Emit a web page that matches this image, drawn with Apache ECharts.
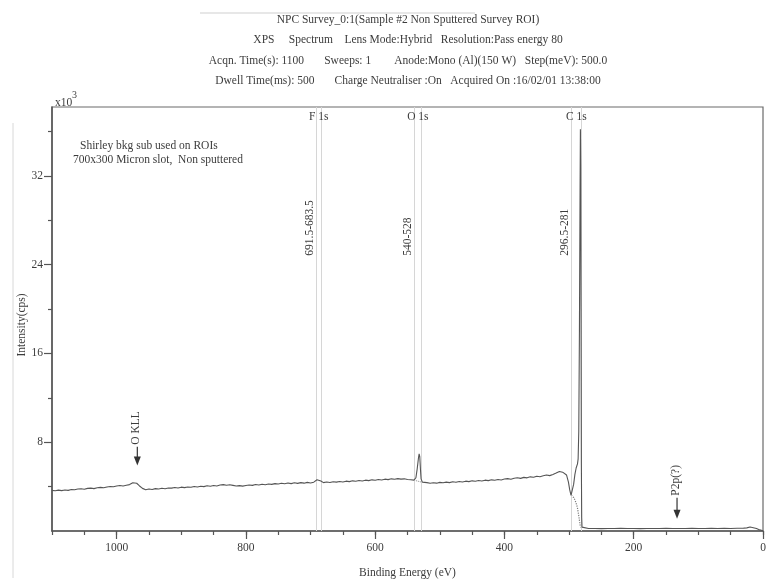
<!DOCTYPE html>
<html>
<head>
<meta charset="utf-8">
<script src="https://cdn.jsdelivr.net/npm/echarts@6/dist/echarts.min.js"></script>
<style>
  html, body { margin: 0; padding: 0; background: #ffffff; }
  #chart { width: 767px; height: 579px; }
</style>
</head>
<body>
<div id="chart"></div>
<script>
// XPS survey spectrum, NPC sample #2 (non sputtered). Intensity in units of 10^3 cps.
const bindingEnergy = [
  1100, 1095, 1090, 1085, 1080, 1075, 1070, 1065, 1060, 1055, 1050, 1045, 1040, 1035, 1030, 1025, 1020, 1015, 1010, 1005,
  1000, 995, 990, 985, 980, 975, 972, 969, 965, 960, 955, 950, 945, 940, 935, 930, 925, 920, 915, 910,
  905, 900, 895, 890, 885, 880, 875, 870, 865, 860, 855, 850, 845, 840, 835, 830, 825, 820, 815, 810,
  805, 800, 795, 790, 785, 780, 775, 770, 765, 760, 755, 750, 745, 740, 735, 730, 725, 720, 715, 710,
  705, 700, 695, 690, 687, 684, 680, 675, 670, 665, 660, 655, 650, 645, 640, 635, 630, 625, 620, 615,
  610, 605, 600, 595, 590, 585, 580, 575, 570, 565, 560, 555, 550, 545, 540, 537, 535, 533, 532, 531,
  530, 529, 527, 524, 520, 515, 510, 505, 500, 495, 490, 485, 480, 475, 470, 465, 460, 455, 450, 445,
  440, 435, 430, 425, 420, 415, 410, 405, 400, 395, 390, 385, 380, 375, 370, 365, 360, 355, 350, 345,
  340, 335, 330, 325, 320, 315, 310, 307, 304, 301, 299, 297, 295, 293, 291, 289, 287, 286, 285, 284,
  283, 282.5, 282, 281.5, 281, 280.5, 280, 278, 270, 260, 250, 240, 230, 220, 210, 200, 190, 180, 170, 160,
  150, 140, 130, 120, 110, 100, 90, 80, 70, 60, 50, 40, 30, 25, 20, 15, 10, 5, 0
];
const intensity = [
  3.66, 3.62, 3.68, 3.64, 3.70, 3.66, 3.74, 3.71, 3.78, 3.80, 3.76, 3.84, 3.86, 3.82, 3.90, 3.93, 3.89, 3.97, 4.01, 3.98,
  4.06, 4.10, 4.05, 4.12, 4.18, 4.34, 4.40, 4.30, 4.08, 3.84, 3.72, 3.78, 3.74, 3.82, 3.79, 3.85, 3.81, 3.88, 3.86, 3.92,
  3.87, 3.95, 3.91, 3.97, 3.94, 4.01, 3.96, 4.03, 4.00, 4.07, 4.03, 4.10, 4.06, 4.14, 4.18, 4.12, 4.16, 4.11, 4.06, 4.09,
  4.04, 4.10, 4.15, 4.11, 4.19, 4.14, 4.21, 4.17, 4.24, 4.20, 4.27, 4.23, 4.30, 4.25, 4.32, 4.27, 4.34, 4.29, 4.36, 4.31,
  4.38, 4.33, 4.40, 4.62, 4.72, 4.50, 4.36, 4.41, 4.37, 4.44, 4.40, 4.46, 4.42, 4.49, 4.45, 4.52, 4.48, 4.55, 4.51, 4.58,
  4.54, 4.61, 4.57, 4.64, 4.60, 4.67, 4.63, 4.70, 4.66, 4.72, 4.67, 4.70, 4.64, 4.62, 4.58, 4.80, 5.60, 6.60, 6.95, 6.70,
  5.60, 4.70, 4.40, 4.32, 4.36, 4.30, 4.35, 4.31, 4.38, 4.34, 4.40, 4.36, 4.43, 4.39, 4.46, 4.42, 4.49, 4.45, 4.52, 4.48,
  4.55, 4.51, 4.58, 4.54, 4.61, 4.57, 4.64, 4.60, 4.68, 4.72, 4.66, 4.75, 4.80, 4.74, 4.83, 4.79, 4.88, 4.84, 4.93, 4.89,
  4.98, 5.04, 4.99, 5.10, 5.22, 5.36, 5.30, 5.32, 5.05, 4.40, 3.70, 3.22, 3.35, 4.20, 5.10, 5.70, 6.05, 6.50, 9.00, 18.0,
  31.0, 36.2, 33.0, 20.0, 6.00, 1.20, 0.35, 0.24, 0.22, 0.23, 0.21, 0.23, 0.22, 0.24, 0.22, 0.23, 0.21, 0.22, 0.23, 0.22,
  0.24, 0.22, 0.23, 0.22, 0.24, 0.23, 0.22, 0.24, 0.23, 0.24, 0.23, 0.25, 0.26, 0.28, 0.36, 0.30, 0.22, 0.10, 0.02
];

// Shirley backgrounds subtracted under the ROIs (dotted)
const bgO1sEnergy = [540, 528];
const bgO1sIntensity = [4.58, 4.40];
const bgC1sEnergy = [296.5, 295, 293, 291, 289, 288, 287, 285, 284, 283, 282, 281];
const bgC1sIntensity = [3.24, 3.18, 3.02, 2.80, 2.48, 2.28, 2.05, 1.35, 0.95, 0.55, 0.38, 0.30];

// Regions of interest
const roiNames = ['F 1s', 'O 1s', 'C 1s'];
const roiStart = [691.5, 540, 296.5];
const roiEnd = [683.5, 528, 281];
const roiLabels = ['691.5-683.5', '540-528', '296.5-281'];

// Arrow annotations
const arrowLabels = ['O KLL', 'P2p(?)'];
const arrowEnergy = [968, 133];
const arrowTop = [7.6, 3.0];
const arrowTip = [5.9, 1.1];

// Axis ticks
const xMajorTicks = [0, 200, 400, 600, 800, 1000];
const xMinorTicks = [0, 50, 100, 150, 200, 250, 300, 350, 400, 450, 500, 550, 600, 650, 700, 750, 800, 850, 900, 950, 1000, 1050, 1100];
const yMajorTicks = [8, 16, 24, 32];
const yMinorTicks = [4, 12, 20, 28, 36];

const headerLines = [
  'NPC Survey_0:1(Sample #2 Non Sputtered Survey ROI)',
  'XPS     Spectrum    Lens Mode:Hybrid   Resolution:Pass energy 80',
  'Acqn. Time(s): 1100       Sweeps: 1        Anode:Mono (Al)(150 W)   Step(meV): 500.0',
  'Dwell Time(ms): 500       Charge Neutraliser :On   Acquired On :16/02/01 13:38:00'
];
const noteLines = ['Shirley bkg sub used on ROIs', '700x300 Micron slot,  Non sputtered'];

const FONT = '"Liberation Serif", "DejaVu Serif", serif';
const FS = 11.5;
const TXT = '#3c3c3c';

const pairs = (xs, ys) => xs.map((x, i) => [x, ys[i]]);

const chart = echarts.init(document.getElementById('chart'), null, { renderer: 'canvas' });

const xBase = { type: 'value', min: 0, max: 1100, inverse: true, position: 'bottom', gridIndex: 0, splitLine: { show: false } };
const yBase = { type: 'value', min: 0, max: 38.2, position: 'left', offset: 0, gridIndex: 0, splitLine: { show: false } };

chart.setOption({
  backgroundColor: '#ffffff',
  animation: false,
  grid: { left: 52, right: 4, top: 107, bottom: 48, outerBoundsMode: 'none', containLabel: false, show: true, borderColor: '#6a6a6a', borderWidth: 1.2, backgroundColor: 'transparent' },
  xAxis: [
    Object.assign({}, xBase, {
      name: 'Binding Energy (eV)', nameLocation: 'middle', nameGap: 36,
      nameTextStyle: { fontFamily: FONT, fontSize: FS, color: TXT },
      axisLine: { show: true, onZero: false, lineStyle: { color: '#555', width: 1.5 } },
      axisTick: { show: true, length: 8, customValues: xMajorTicks, lineStyle: { color: '#555', width: 1.2 } },
      axisLabel: { show: true, customValues: xMajorTicks, margin: 11, fontFamily: FONT, fontSize: FS, color: TXT, formatter: v => String(v) }
    }),
    Object.assign({}, xBase, {
      axisLine: { show: false, onZero: false },
      axisTick: { show: true, length: 4, customValues: xMinorTicks, lineStyle: { color: '#555', width: 1.2 } },
      axisLabel: { show: false }
    })
  ],
  yAxis: [
    Object.assign({}, yBase, {
      axisLine: { show: true, onZero: false, lineStyle: { color: '#555', width: 1.5 } },
      axisTick: { show: true, length: 8, customValues: yMajorTicks, lineStyle: { color: '#555', width: 1.2 } },
      axisLabel: { show: true, customValues: yMajorTicks, margin: 9, fontFamily: FONT, fontSize: FS, color: TXT, padding: [0, 0, 6, 0] }
    }),
    Object.assign({}, yBase, {
      axisLine: { show: false, onZero: false },
      axisTick: { show: true, length: 4, customValues: yMinorTicks, lineStyle: { color: '#555', width: 1.2 } },
      axisLabel: { show: false }
    })
  ],
  series: [
    {
      name: 'Survey', type: 'line', xAxisIndex: 0, yAxisIndex: 0,
      data: pairs(bindingEnergy, intensity), showSymbol: false, symbol: 'none',
      lineStyle: { color: '#555555', width: 1.1 }, z: 5,
      markLine: {
        silent: true, symbol: 'none', animation: false,
        label: { show: false },
        lineStyle: { color: '#d6d6d6', type: 'solid', width: 1 },
        data: roiStart.concat(roiEnd).map(v => ({ xAxis: v }))
      }
    },
    {
      name: 'O 1s background', type: 'line', xAxisIndex: 0, yAxisIndex: 0,
      data: pairs(bgO1sEnergy, bgO1sIntensity), showSymbol: false, symbol: 'none',
      lineStyle: { color: '#8a8a8a', width: 1, type: 'dotted' }, z: 4
    },
    {
      name: 'C 1s background', type: 'line', xAxisIndex: 0, yAxisIndex: 0,
      data: pairs(bgC1sEnergy, bgC1sIntensity), showSymbol: false, symbol: 'none',
      lineStyle: { color: '#7a7a7a', width: 1.2, type: 'dotted' }, z: 4
    }
  ]
});

// Text, ROI captions and arrows placed through the axis scales
const px = (x, y) => chart.convertToPixel({ xAxisIndex: 0, yAxisIndex: 0 }, [x, y]);
const font = FS + 'px ' + FONT;
const graphics = [];

headerLines.forEach((t, i) => {
  graphics.push({ type: 'text', x: 408, y: 20 + i * 20.3, style: { text: t, font: font, fill: TXT, align: 'center', verticalAlign: 'middle' } });
});
noteLines.forEach((t, i) => {
  graphics.push({ type: 'text', x: i === 0 ? 80 : 73, y: 146 + i * 13.5, style: { text: t, font: font, fill: TXT, align: 'left', verticalAlign: 'middle' } });
});
graphics.push({ type: 'text', x: 55, y: 103, style: { text: 'x10', font: font, fill: TXT, align: 'left', verticalAlign: 'middle' } });
graphics.push({ type: 'text', x: 72, y: 95, style: { text: '3', font: '10px ' + FONT, fill: TXT, align: 'left', verticalAlign: 'middle' } });
// y-axis title
graphics.push({ type: 'text', x: 22, y: 325, rotation: Math.PI / 2, style: { text: 'Intensity(cps)', font: font, fill: TXT, align: 'center', verticalAlign: 'middle' } });

roiNames.forEach((name, i) => {
  const a = px(roiStart[i], 0), b = px(roiEnd[i], 0);
  graphics.push({ type: 'text', x: (a[0] + b[0]) / 2, y: 117, z: 10, style: { text: name, font: font, fill: TXT, align: 'center', verticalAlign: 'middle' } });
  const p = px(roiStart[i], 24.8);
  graphics.push({ type: 'text', x: p[0] - 6, y: p[1], rotation: Math.PI / 2, z: 10, style: { text: roiLabels[i], font: font, fill: TXT, align: 'left', verticalAlign: 'middle' } });
});

arrowLabels.forEach((name, i) => {
  const top = px(arrowEnergy[i], arrowTop[i]);
  const tip = px(arrowEnergy[i], arrowTip[i]);
  const headH = 9, headW = 3.5;
  graphics.push({ type: 'line', z: 10, shape: { x1: top[0], y1: top[1], x2: tip[0], y2: tip[1] - headH + 1 }, style: { stroke: '#333', lineWidth: 1.2 } });
  graphics.push({ type: 'polygon', z: 10, shape: { points: [[tip[0] - headW, tip[1] - headH], [tip[0] + headW, tip[1] - headH], [tip[0], tip[1]]] }, style: { fill: '#333' } });
  graphics.push({ type: 'text', x: top[0] - 1, y: top[1] - 2, rotation: Math.PI / 2, z: 10, style: { text: name, font: font, fill: TXT, align: 'left', verticalAlign: 'middle' } });
});

// faint scanner marks around the page
graphics.push({ type: 'line', shape: { x1: 13, y1: 123, x2: 13, y2: 578 }, style: { stroke: '#d8d8d8', lineWidth: 1 } });
graphics.push({ type: 'line', shape: { x1: 200, y1: 13, x2: 475, y2: 13 }, style: { stroke: '#cfcfcf', lineWidth: 1 } });

chart.setOption({ graphic: { elements: graphics } });
</script>
</body>
</html>
